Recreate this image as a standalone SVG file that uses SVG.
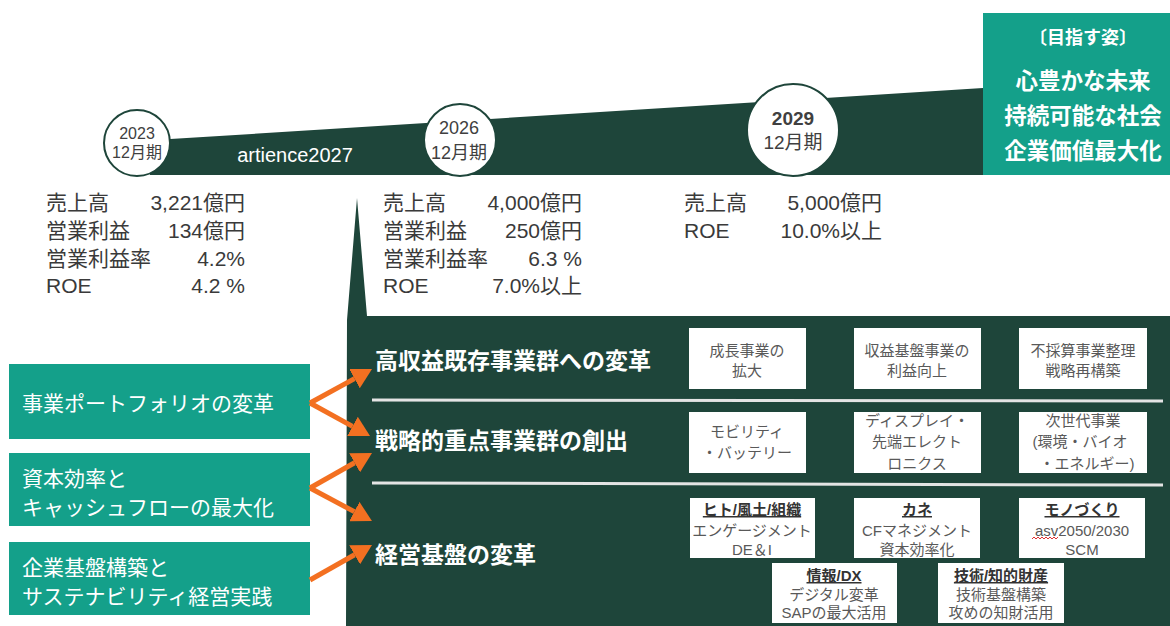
<svg xmlns="http://www.w3.org/2000/svg" width="1170" height="626" viewBox="0 0 1170 626">
<style>
  .jp { font-family: "Liberation Sans", "Noto Sans CJK JP", sans-serif; }
  .body { font-size: 21px; fill: #3a3a3a; }
  .circ { fill: #fff; stroke: #1e453a; stroke-width: 2; }
  .ctext { fill: #404040; text-anchor: middle; }
  .teal { fill: #14a08a; }
  .dark { fill: #1e453a; }
  .lbox { font-size: 21px; fill: #fff; }
  .sect { font-size: 23px; font-weight: bold; fill: #fff; }
  .wbox { fill: #fff; }
  .btext { font-size: 15px; fill: #595959; text-anchor: middle; }
  .btitle { font-size: 15px; fill: #333; font-weight: bold; text-anchor: middle; text-decoration: underline; }
  .goal { fill: #fff; font-weight: bold; text-anchor: middle; }
  .sep { stroke: #e4e4e4; stroke-width: 3; }
  .arrow { stroke: #f37021; stroke-width: 5; fill: none; marker-end: url(#ah); }
</style>
<defs>
  <marker id="ah" markerUnits="userSpaceOnUse" markerWidth="20" markerHeight="22" viewBox="0 0 20 22" refX="0" refY="11" orient="auto">
    <path d="M0,0 L20,11 L0,22 Z" fill="#f37021"/>
  </marker>
</defs>

<rect width="1170" height="626" fill="#fff"/>

<!-- timeline band -->
<g id="band">
  <polygon class="dark" points="150,140.3 983,88 983,175 150,175"/>
  <text class="jp" x="295" y="162" font-size="20" fill="#fff" text-anchor="middle">artience2027</text>
</g>

<!-- goal box -->
<g id="goal">
  <rect class="teal" x="983" y="13" width="187" height="162"/>
  <text class="jp goal" x="1083" y="44" font-size="18">〔目指す姿〕</text>
  <text class="jp goal" x="1083" y="89" font-size="22.5">心豊かな未来</text>
  <text class="jp goal" x="1083" y="124" font-size="22.5">持続可能な社会</text>
  <text class="jp goal" x="1083" y="159" font-size="22.5">企業価値最大化</text>
</g>

<!-- milestone circles -->
<g id="m2023">
  <circle class="circ" cx="137" cy="143" r="33"/>
  <text class="jp ctext" x="137" y="139" font-size="16">2023</text>
  <text class="jp ctext" x="137" y="158" font-size="16">12月期</text>
</g>
<g id="m2026">
  <circle class="circ" cx="460" cy="140" r="36"/>
  <text class="jp ctext" x="459" y="134" font-size="18">2026</text>
  <text class="jp ctext" x="459" y="159" font-size="18">12月期</text>
</g>
<g id="m2029">
  <circle class="circ" cx="793" cy="130" r="46"/>
  <text class="jp ctext" x="793" y="125" font-size="19" font-weight="bold">2029</text>
  <text class="jp ctext" x="793" y="149" font-size="19">12月期</text>
</g>

<!-- figures -->
<g id="fig2023" class="jp body">
  <text x="46" y="210">売上高</text><text x="245" y="210" text-anchor="end">3,221億円</text>
  <text x="46" y="238">営業利益</text><text x="245" y="238" text-anchor="end">134億円</text>
  <text x="46" y="266">営業利益率</text><text x="245" y="266" text-anchor="end">4.2%</text>
  <text x="46" y="293">ROE</text><text x="245" y="293" text-anchor="end">4.2 %</text>
</g>
<g id="fig2026" class="jp body">
  <text x="383" y="210">売上高</text><text x="582" y="210" text-anchor="end">4,000億円</text>
  <text x="383" y="238">営業利益</text><text x="582" y="238" text-anchor="end">250億円</text>
  <text x="383" y="266">営業利益率</text><text x="582" y="266" text-anchor="end">6.3 %</text>
  <text x="383" y="293">ROE</text><text x="582" y="293" text-anchor="end">7.0%以上</text>
</g>
<g id="fig2029" class="jp body">
  <text x="684" y="210">売上高</text><text x="882" y="210" text-anchor="end">5,000億円</text>
  <text x="684" y="238">ROE</text><text x="882" y="238" text-anchor="end">10.0%以上</text>
</g>

<!-- strategy panel -->
<g id="panel">
  <polygon class="dark" points="357,198 367,316 1170,316 1170,626 346,626 347,320"/>
  <line class="sep" x1="372" y1="400" x2="1163" y2="401"/>
  <line class="sep" x1="372" y1="483" x2="1163" y2="485"/>
  <text class="jp sect" x="375" y="369">高収益既存事業群への変革</text>
  <text class="jp sect" x="375" y="449">戦略的重点事業群の創出</text>
  <text class="jp sect" x="375" y="563">経営基盤の変革</text>
</g>

<!-- row 1 boxes -->
<g id="b11"><rect class="wbox" x="689" y="328" width="117" height="61"/>
  <text class="jp btext" x="747" y="356">成長事業の</text><text class="jp btext" x="747" y="376">拡大</text></g>
<g id="b12"><rect class="wbox" x="854" y="328" width="127" height="61"/>
  <text class="jp btext" x="917" y="356">収益基盤事業の</text><text class="jp btext" x="917" y="376">利益向上</text></g>
<g id="b13"><rect class="wbox" x="1019" y="328" width="128" height="61"/>
  <text class="jp btext" x="1083" y="356">不採算事業整理</text><text class="jp btext" x="1083" y="376">戦略再構築</text></g>

<!-- row 2 boxes -->
<g id="b21"><rect class="wbox" x="689" y="412" width="117" height="61"/>
  <text class="jp btext" x="747" y="437">モビリティ</text><text class="jp btext" x="747" y="458">・バッテリー</text></g>
<g id="b22"><rect class="wbox" x="854" y="412" width="127" height="61"/>
  <text class="jp btext" x="917" y="426">ディスプレイ・</text><text class="jp btext" x="917" y="447">先端エレクト</text><text class="jp btext" x="917" y="469">ロニクス</text></g>
<g id="b23"><rect class="wbox" x="1019" y="412" width="128" height="61"/>
  <text class="jp btext" x="1083" y="426">次世代事業</text><text class="jp btext" x="1080" y="447">(環境・バイオ</text><text class="jp btext" x="1087" y="469">・エネルギー)</text></g>

<!-- row 3 boxes -->
<g id="b31"><rect class="wbox" x="690" y="498" width="125" height="60"/>
  <text class="jp btitle" x="752" y="515">ヒト/風土/組織</text><text class="jp btext" x="752" y="536">エンゲージメント</text><text class="jp btext" x="752" y="555">DE＆I</text></g>
<g id="b32"><rect class="wbox" x="854" y="498" width="126" height="60"/>
  <text class="jp btitle" x="917" y="515">カネ</text><text class="jp btext" x="917" y="536">CFマネジメント</text><text class="jp btext" x="917" y="555">資本効率化</text></g>
<g id="b33"><rect class="wbox" x="1019" y="498" width="126" height="60"/>
  <text class="jp btitle" x="1082" y="515">モノづくり</text><text class="jp btext" x="1082" y="536">asv2050/2030</text><text class="jp btext" x="1082" y="555">SCM</text>
  <path d="M1032,539 l2,-2 l2,2 l2,-2 l2,2 l2,-2 l2,2 l2,-2 l2,2 l2,-2 l2,2 l2,-2 l2,2 l2,-2" fill="none" stroke="#e03030" stroke-width="1"/></g>
<g id="b34"><rect class="wbox" x="772" y="563" width="125" height="60"/>
  <text class="jp btitle" x="834" y="581">情報/DX</text><text class="jp btext" x="834" y="600">デジタル変革</text><text class="jp btext" x="834" y="618">SAPの最大活用</text></g>
<g id="b35"><rect class="wbox" x="938" y="563" width="126" height="60"/>
  <text class="jp btitle" x="1001" y="581">技術/知的財産</text><text class="jp btext" x="1001" y="600">技術基盤構築</text><text class="jp btext" x="1001" y="618">攻めの知財活用</text></g>

<!-- left boxes -->
<g id="l1"><rect class="teal" x="9" y="364" width="301" height="75"/>
  <text class="jp lbox" x="22" y="411">事業ポートフォリオの変革</text></g>
<g id="l2"><rect class="teal" x="9" y="453" width="301" height="73"/>
  <text class="jp lbox" x="22" y="486">資本効率と</text><text class="jp lbox" x="22" y="515">キャッシュフローの最大化</text></g>
<g id="l3"><rect class="teal" x="9" y="542" width="301" height="73"/>
  <text class="jp lbox" x="22" y="575">企業基盤構築と</text><text class="jp lbox" x="22" y="604">サステナビリティ経営実践</text></g>

<!-- connectors -->
<g id="connectors">
  <line class="arrow" x1="310" y1="403" x2="354.5" y2="378.6"/>
  <line class="arrow" x1="310" y1="403" x2="352.5" y2="426.4"/>
  <line class="arrow" x1="310" y1="488" x2="354.6" y2="462.8"/>
  <line class="arrow" x1="310" y1="488" x2="354.3" y2="511.6"/>
  <line class="arrow" x1="310" y1="580" x2="354.6" y2="554.8"/>
</g>
</svg>
